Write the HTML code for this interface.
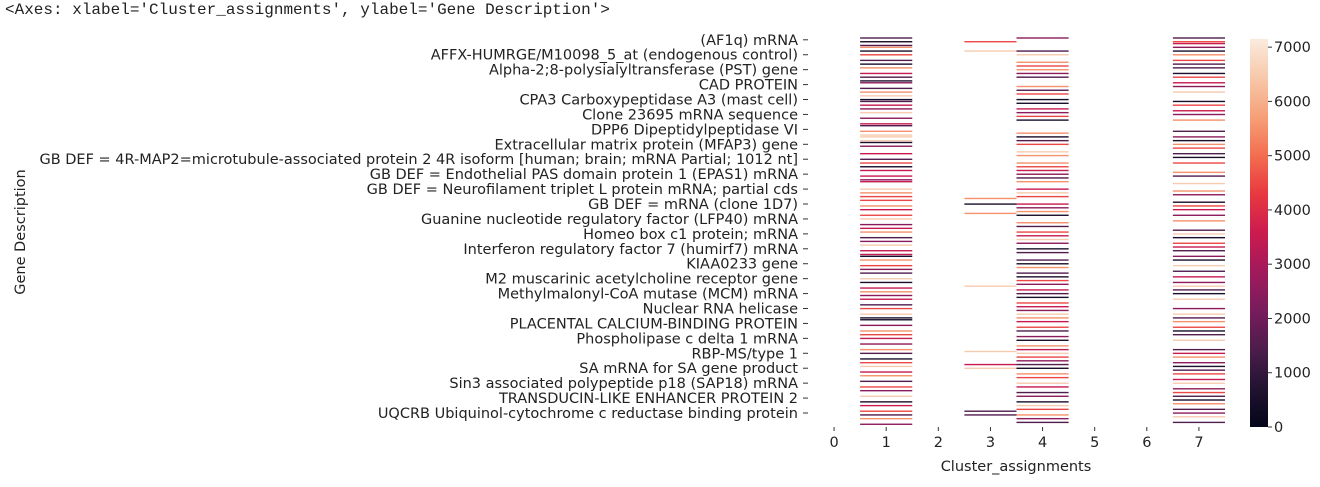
<!DOCTYPE html>
<html><head><meta charset="utf-8"><style>
body{margin:0;background:#fff;width:1320px;height:487px;overflow:hidden;font-family:"DejaVu Sans","Liberation Sans",sans-serif;}
#hdr{position:absolute;left:5px;top:1px;font:16px "Liberation Mono",monospace;color:#222;}
</style></head><body>
<div id="hdr">&lt;Axes: xlabel='Cluster_assignments', ylabel='Gene Description'&gt;</div>
<svg id="chart" width="1320" height="487" style="position:absolute;left:0;top:0"></svg>
<script>
const geneLabels=["(AF1q) mRNA","AFFX-HUMRGE/M10098_5_at (endogenous control)","Alpha-2;8-polysialyltransferase (PST) gene","CAD PROTEIN","CPA3 Carboxypeptidase A3 (mast cell)","Clone 23695 mRNA sequence","DPP6 Dipeptidylpeptidase VI","Extracellular matrix protein (MFAP3) gene","GB DEF = 4R-MAP2=microtubule-associated protein 2 4R isoform [human; brain; mRNA Partial; 1012 nt]","GB DEF = Endothelial PAS domain protein 1 (EPAS1) mRNA","GB DEF = Neurofilament triplet L protein mRNA; partial cds","GB DEF = mRNA (clone 1D7)","Guanine nucleotide regulatory factor (LFP40) mRNA","Homeo box c1 protein; mRNA","Interferon regulatory factor 7 (humirf7) mRNA","KIAA0233 gene","M2 muscarinic acetylcholine receptor gene","Methylmalonyl-CoA mutase (MCM) mRNA","Nuclear RNA helicase","PLACENTAL CALCIUM-BINDING PROTEIN","Phospholipase c delta 1 mRNA","RBP-MS/type 1","SA mRNA for SA gene product","Sin3 associated polypeptide p18 (SAP18) mRNA","TRANSDUCIN-LIKE ENHANCER PROTEIN 2","UQCRB Ubiquinol-cytochrome c reductase binding protein"];
const clusterTicks=[0,1,2,3,4,5,6,7];
const colorbarTicks=[0,1000,2000,3000,4000,5000,6000,7000];
// one char per gene row: digit = value in thousands (approx), '.' = no value
const cluster1="1.0.15.0.4..1.0.5..3.1.02..1.5.6.01.3.2.6..2..31..5.66.60.2...3..1.4.0.3..3.23...6.5.4.4..5.3..4.6..2.3.5..1.2.6..3.30.5..4.2.1..6.0..3.5.2.3..1.4..6.00..2..5.4.3..2..5.1..0.4.6..3.5..1..4.2..6..0.3..4.1.5..2.6..4.3.2..";
const cluster3="..4....6..............................................................................5..0....5......................................6..................................6......3.6......................1.1........";
const cluster4="2......1.6...5.4.5.2.1....5.1.4..0.0..3.2.4.0......5.0.1.4...6.5...5.4.3.2.1.5...3.6.4...3.2.5.0...5.1..4.3.6.2..0.1...1.0.5..1.0.4.2..3.1.0..4.3.2.6.5.3..4.1..2.0..5.3.6.4.2.1.0..5.4..6.3..1.2..0.6.4..5.2.1..3.0.";
const cluster7="1.43.2.0.5..4.1.1..0.4..3.2..6....0.4..3.2..5.....1..2.0.5.4..1.0..4....5.1...6...5.2...0.4.3..2..5....1.6.0..4.3.1..2.0..6..1..3..2.6.1.0..6....2..6.1.5..4.0.1..6....1.3.5..2.0.1.4..3.6..2.4.1.0.5..1.2.6..1..4.5.";
const clusterCols=[1,3,4,7];
const clusterValues=[cluster1,cluster3,cluster4,cluster7];
const vmax=7150, nRows=209;

const NS="http://www.w3.org/2000/svg";
const svg=document.getElementById('chart');
function mk(t,a){const e=document.createElementNS(NS,t);for(const k in a)e.setAttribute(k,a[k]);svg.appendChild(e);return e;}
const plotL=808, plotR=1225, plotT=37, plotB=427;
const colW=(plotR-plotL)/8, rowH=(plotB-plotT)/nRows;
const xPos=c=>plotL+c*colW;
const yPos=r=>plotT+r*rowH;
const stops=[[0,[3,5,26]],[.1,[34,19,49]],[.2,[76,29,75]],[.3,[120,28,93]],[.4,[161,26,91]],[.5,[203,27,79]],[.6,[232,56,64]],[.7,[243,110,80]],[.8,[246,160,120]],[.9,[247,200,170]],[1,[250,235,221]]];
function cmap(v){let t=Math.max(0,Math.min(1,v/vmax));for(let i=1;i<stops.length;i++){if(t<=stops[i][0]){const a=stops[i-1],b=stops[i],f=(t-a[0])/(b[0]-a[0]);return 'rgb('+a[1].map((x,j)=>Math.round(x+(b[1][j]-x)*f)).join(',')+')';}}return 'rgb(250,235,221)';}

clusterValues.forEach((s,ci)=>{
  for(let r=0;r<nRows;r++){const ch=s[r];if(!ch||ch==='.')continue;
    const v=(+ch)*1000+500;
    const el=mk('rect',{x:xPos(clusterCols[ci]),y:yPos(r)+0.3,width:colW,height:rowH*0.75,fill:cmap(v)});
    
    
  }
});
// y labels
geneLabels.forEach((g,i)=>{
  const y=yPos(i*8+1.5);
  const t=mk('text',{x:798,y:y+5,'text-anchor':'end','font-size':14.5,fill:'#222'});t.textContent=g;
  
  
  mk('line',{x1:803,x2:808,y1:y,y2:y,stroke:'#333','stroke-width':1});
});
// x ticks
clusterTicks.forEach(c=>{
  const x=xPos(c)+colW/2;
  mk('line',{x1:x,x2:x,y1:plotB,y2:plotB+4,stroke:'#333','stroke-width':1});
  const t=mk('text',{x:x,y:plotB+20,'text-anchor':'middle','font-size':14.5,fill:'#222'});t.textContent=c;
  
  
});
const xl=mk('text',{x:1016,y:471,'text-anchor':'middle','font-size':14.5,fill:'#222'});xl.textContent='Cluster_assignments';


const yl=mk('text',{x:0,y:0,'text-anchor':'middle','font-size':14.5,fill:'#222',transform:'translate(25,232) rotate(-90)'});yl.textContent='Gene Description';


// colorbar
const cbL=1250,cbW=18,cbT=39,cbB=427;
const defs=mk('defs',{});
const grad=document.createElementNS(NS,'linearGradient');grad.setAttribute('id','g');grad.setAttribute('x1',0);grad.setAttribute('x2',0);grad.setAttribute('y1',1);grad.setAttribute('y2',0);
stops.forEach(s=>{const st=document.createElementNS(NS,'stop');st.setAttribute('offset',s[0]);st.setAttribute('stop-color','rgb('+s[1].join(',')+')');grad.appendChild(st);});
defs.appendChild(grad);
const cb=mk('rect',{x:cbL,y:cbT,width:cbW,height:cbB-cbT,fill:'url(#g)'});


colorbarTicks.forEach(v=>{
  const y=cbB-(v/vmax)*(cbB-cbT);
  mk('line',{x1:cbL+cbW,x2:cbL+cbW+4,y1:y,y2:y,stroke:'#333'});
  const t=mk('text',{x:cbL+cbW+6,y:y+5,'font-size':14.5,fill:'#222'});t.textContent=v;
  
  
});
</script>
</body></html>
